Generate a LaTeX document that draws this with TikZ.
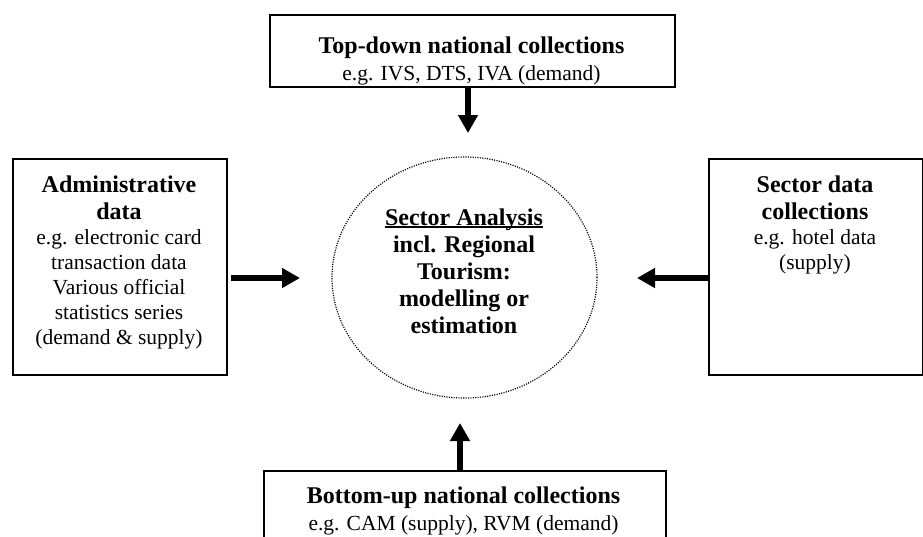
\documentclass[tikz,border=0pt]{standalone}
\usepackage{fontspec}
\setmainfont{Liberation Serif}
\usetikzlibrary{arrows.meta,shapes.geometric}
\newcommand{\bt}[1]{{\fontsize{24}{27.5}\selectfont\bfseries #1}}
\newcommand{\rt}[1]{{\fontsize{21.5}{25}\selectfont #1}}
\newcommand{\myul}[1]{\setbox0\hbox{#1}\rlap{\rule[-2.6pt]{\wd0}{2pt}}\box0}
\tikzset{
  boxshape/.style={draw, line width=2pt, rectangle, inner sep=0pt, anchor=north west},
  txt/.style={align=center, inner sep=0pt, font=\fontsize{21.5}{25}\selectfont},
  arr/.style={line width=6pt, -{Triangle[length=18pt,width=19pt]}},
}
\begin{document}
\begin{tikzpicture}[x=1pt,y=-1pt]
\useasboundingbox (0,0) rectangle (923,536);
% boxes
\node[boxshape, minimum width=405pt, minimum height=72pt] (top) at (269,14) {};
\node[boxshape, minimum width=214pt, minimum height=216pt] (left) at (12,158) {};
\node[boxshape, minimum width=214pt, minimum height=216pt] (right) at (708,158) {};
\node[boxshape, minimum width=402pt, minimum height=90pt] (bottom) at (263,470) {};
% circle
\node[draw, ellipse, line width=1.2pt, dash pattern=on 1.1pt off 1.3pt,
      minimum width=265pt, minimum height=241pt, inner sep=0pt] (circ) at (464.5,277.5) {};
% texts
\node[txt] (toptxt) at (471.5,60.5) {\bt{Top-down national collections}\\[2pt] \rt{e.g. IVS, DTS, IVA (demand)}};
\node[txt] (lefttxt) at (119,262.5) {\bt{Administrative}\\[2.7pt] \bt{data}\\ \rt{e.g. electronic card}\\ \rt{transaction data}\\ \rt{Various official}\\ \rt{statistics series}\\ \rt{(demand \& supply)}};
\node[txt] (righttxt) at (815,225) {\bt{Sector data}\\[2.7pt] \bt{collections}\\ \rt{e.g. hotel data}\\ \rt{(supply)}};
\node[txt, font=\fontsize{24}{27}\selectfont\bfseries] (circtxt) at (464,271) {\myul{Sector Analysis}\\ incl. Regional\\ Tourism:\\ modelling or\\ estimation};
\node[txt] (bottxt) at (463.5,510.5) {\bt{Bottom-up national collections}\\[2pt] \rt{e.g. CAM (supply), RVM (demand)}};
% arrow tips
\coordinate (ttip) at (468,133);
\coordinate (ltip) at (300,278);
\coordinate (rtip) at (637,278);
\coordinate (btip) at (460,423);
\draw[arr] (top.south -| ttip) -- (ttip);
\draw[arr] ([xshift=3pt]left.east |- ltip) -- (ltip);
\draw[arr] (right.west |- rtip) -- (rtip);
\draw[arr] (bottom.north -| btip) -- (btip);
\end{tikzpicture}
\end{document}
